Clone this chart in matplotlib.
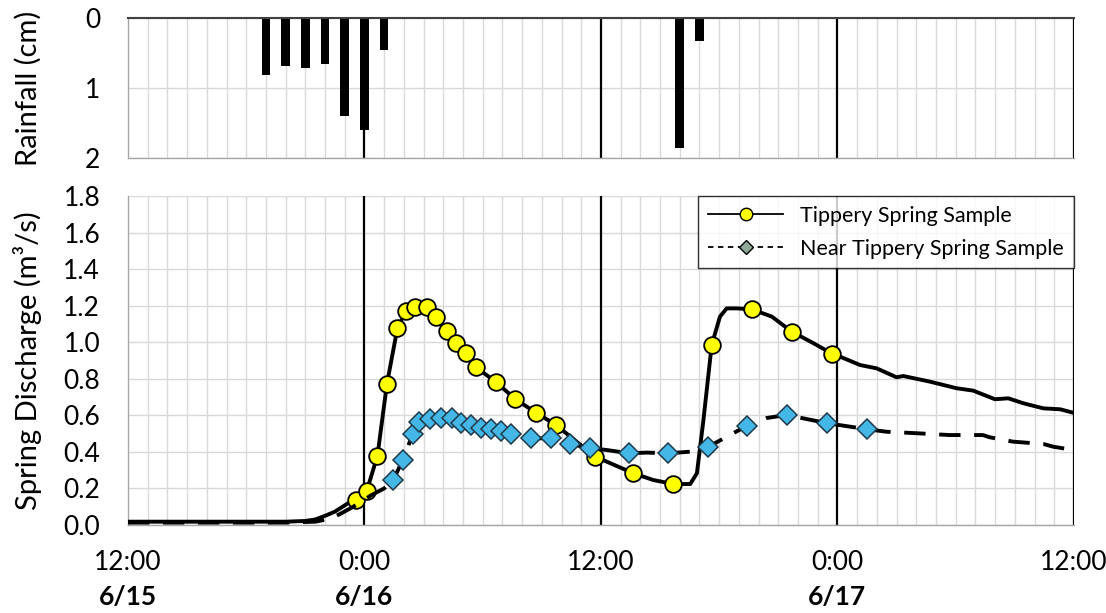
import numpy as np
import matplotlib as mpl
mpl.use('Agg')
import matplotlib.pyplot as plt
from matplotlib.lines import Line2D
from matplotlib.transforms import blended_transform_factory

font_name = 'Lato'
mpl.rc('font', family=[font_name, 'DejaVu Sans'])
font_size = 19

# x values are hours since 12:00 on 6/15
rain_t = [7, 8, 9, 10, 11, 12, 13, 28, 29]
rain_cm = [0.81, 0.69, 0.72, 0.66, 1.40, 1.60, 0.46, 1.86, 0.33]

# Tippery spring: continuous record and samples
tip_line_t = [0, 2, 4, 6, 8, 9.0, 9.5, 10.0, 10.5, 11.17, 11.58, 12.12, 12.66,
              13.14, 13.67, 14.11, 14.59, 15.16, 15.64, 16.18, 16.65, 17.16,
              17.67, 18.65, 19.66, 20.71, 21.72, 23.70, 25.65, 26.65, 27.68,
              28.53, 28.87, 29.2, 29.62, 30.04, 30.38, 30.89, 31.65, 32.67,
              33.68, 34.79, 35.71, 36.13, 37.15, 37.99, 39.0, 39.34, 40.7,
              42.05, 42.89, 43.99, 44.67, 45.43, 46.45, 47.3, 48.0]
tip_line_q = [0.018, 0.018, 0.018, 0.018, 0.018, 0.022, 0.03, 0.05, 0.073,
              0.119, 0.137, 0.188, 0.379, 0.771, 1.076, 1.172, 1.19, 1.194,
              1.136, 1.063, 0.994, 0.943, 0.862, 0.784, 0.688, 0.614, 0.547,
              0.374, 0.283, 0.246, 0.224, 0.224, 0.283, 0.574, 0.985, 1.14,
              1.185, 1.185, 1.18, 1.14, 1.058, 0.994, 0.938, 0.921, 0.875,
              0.857, 0.808, 0.815, 0.784, 0.748, 0.735, 0.688, 0.693, 0.666,
              0.638, 0.633, 0.613]
tip_s_t = [11.58, 12.12, 12.66, 13.14, 13.67, 14.11, 14.59, 15.16, 15.64,
           16.18, 16.65, 17.16, 17.67, 18.65, 19.66, 20.71, 21.72, 23.70,
           25.65, 27.68, 29.62, 31.65, 33.68, 35.71]
tip_s_q = [0.137, 0.188, 0.379, 0.771, 1.076, 1.172, 1.19, 1.194, 1.136,
           1.063, 0.994, 0.943, 0.862, 0.784, 0.688, 0.614, 0.547, 0.374,
           0.283, 0.224, 0.985, 1.18, 1.058, 0.938]

# Near Tippery spring: continuous record and samples
near_line_t = [0, 2, 4, 6, 8, 9.5, 10.3, 10.83, 11.6, 12.3, 13.0, 13.46,
               13.95, 14.45, 14.79, 15.33, 15.88, 16.43, 16.89, 17.40, 17.91,
               18.41, 18.92, 19.43, 20.44, 21.46, 22.43, 23.45, 24.3, 25.44,
               26.33, 27.42, 28.53, 29.45, 31.40, 32.4, 33.43, 35.46, 37.49,
               38.5, 40.0, 41.69, 43.38, 43.72, 44.9, 46.45, 46.96, 48.0]
near_line_q = [0.013, 0.013, 0.013, 0.013, 0.013, 0.018, 0.035, 0.064, 0.11,
               0.16, 0.2, 0.246, 0.356, 0.498, 0.565, 0.58, 0.584, 0.584,
               0.557, 0.547, 0.529, 0.524, 0.516, 0.498, 0.474, 0.474, 0.443,
               0.42, 0.41, 0.392, 0.396, 0.392, 0.401, 0.428, 0.542, 0.585,
               0.602, 0.557, 0.524, 0.51, 0.502, 0.492, 0.492, 0.48, 0.456,
               0.443, 0.428, 0.41]
near_s_t = [13.46, 13.95, 14.45, 14.79, 15.33, 15.88, 16.43, 16.89, 17.40,
            17.91, 18.41, 18.92, 19.43, 20.44, 21.46, 22.43, 23.45, 25.44,
            27.42, 29.45, 31.40, 33.43, 35.46, 37.49]
near_s_q = [0.246, 0.356, 0.498, 0.565, 0.58, 0.584, 0.584, 0.557, 0.547,
            0.529, 0.524, 0.516, 0.498, 0.474, 0.474, 0.443, 0.42, 0.392,
            0.392, 0.428, 0.542, 0.602, 0.557, 0.524]

major_t = [0, 12, 24, 36, 48]
time_labels = ['12:00', '0:00', '12:00', '0:00', '12:00']
date_t = [0, 12, 36]
date_labels = ['6/15', '6/16', '6/17']

grid_c = '#d9d9d9'
spine_c = '#a6a6a6'
yellow = '#ffff00'
blue = '#45b7e6'

fig = plt.figure(figsize=(11.06, 6.13), dpi=100)
ax_r = fig.add_axes([0.1157, 0.7423, 0.8553, 0.2284])
ax_q = fig.add_axes([0.1157, 0.1436, 0.8553, 0.5367])


def style_axis(ax):
    ax.set_xlim(0, 48)
    ax.set_xticks(np.arange(0, 49, 1), minor=True)
    ax.grid(which='minor', axis='x', color=grid_c, lw=1.0, zorder=0)
    ax.grid(which='major', axis='y', color=grid_c, lw=1.0, zorder=0)
    for t in major_t[1:]:
        ax.axvline(t, color='black', lw=1.6, zorder=1)
    for s in ['left', 'bottom', 'top', 'right']:
        ax.spines[s].set_color(spine_c)
        ax.spines[s].set_linewidth(1.0)
    ax.spines['right'].set_visible(False)
    ax.set_axisbelow(True)
    ax.tick_params(axis='both', which='both', length=0, labelsize=font_size)
    ax.tick_params(axis='y', pad=20)


# Rainfall (inverted bars)
style_axis(ax_r)
ax_r.bar(rain_t, rain_cm, width=0.44, color='black', zorder=2)
ax_r.set_ylim(2, 0)
ax_r.set_yticks([0, 1, 2])
ax_r.set_yticklabels(['0', '1', '2'])
ax_r.set_xticks(major_t)
ax_r.set_xticklabels([])
ax_r.spines['top'].set_color('#404040')
ax_r.spines['top'].set_linewidth(1.5)
ax_r.set_ylabel('Rainfall (cm)', fontsize=21)
ax_r.yaxis.set_label_coords(-0.091, 0.5)

# Spring discharge
style_axis(ax_q)
ax_q.spines['top'].set_visible(False)
ax_q.plot(tip_line_t, tip_line_q, color='black', lw=2.8, zorder=3,
          solid_joinstyle='round')
ax_q.plot(tip_s_t, tip_s_q, ls='none', marker='o', ms=12,
          mfc=yellow, mec='black', mew=1.3, zorder=4)
ax_q.plot(near_line_t, near_line_q, color='black', lw=2.8,
          ls=(0, (5.5, 3.5)), zorder=5)
ax_q.plot(near_s_t, near_s_q, ls='none', marker='D', ms=10,
          mfc=blue, mec='#1f3a4a', mew=1.1, zorder=6)

ax_q.set_ylim(0, 1.8)
ax_q.set_yticks(np.arange(0, 1.81, 0.2))
ax_q.set_yticklabels(['%.1f' % v for v in np.arange(0, 1.81, 0.2)])
ax_q.set_xticks(major_t)
ax_q.set_xticklabels(time_labels)
ax_q.tick_params(axis='x', pad=18)
ax_q.set_ylabel('Spring Discharge (m³/s)', fontsize=21)
ax_q.yaxis.set_label_coords(-0.091, 0.5)

trans = blended_transform_factory(ax_q.transData, ax_q.transAxes)
for t, lab in zip(date_t, date_labels):
    ax_q.text(t, -0.218, lab, transform=trans, ha='center', va='center',
              fontsize=font_size, fontweight='bold')

handles = [
    Line2D([], [], color='black', lw=1.3, marker='o', ms=9,
           mfc=yellow, mec='black', mew=1.0),
    Line2D([], [], color='black', lw=1.3, ls=(0, (3, 2.5)), marker='D',
           ms=7.5, mfc='#8fa89c', mec='black', mew=1.0),
]
leg = ax_q.legend(handles, ['Tippery Spring Sample',
                            'Near Tippery Spring Sample'],
                  loc='upper right', fontsize=15.5, frameon=True,
                  fancybox=False, borderaxespad=0, handlelength=3.5,
                  labelspacing=0.6, borderpad=0.45, handletextpad=0.8)
leg.get_frame().set_edgecolor('black')
leg.get_frame().set_linewidth(1.0)
leg.set_zorder(10)

fig.savefig('out.png', dpi=100)
